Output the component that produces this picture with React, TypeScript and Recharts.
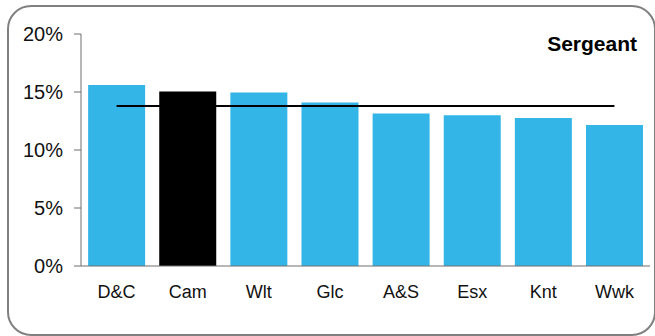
import { Bar, Cell, ComposedChart, Line, XAxis, YAxis } from 'recharts';

const categories = ['D&C', 'Cam', 'Wlt', 'Glc', 'A&S', 'Esx', 'Knt', 'Wwk'];
const shares = [15.6, 15.05, 14.95, 14.1, 13.15, 13.0, 12.75, 12.15];
const average = [13.8, 13.8, 13.8, 13.8, 13.8, 13.8, 13.8, 13.8];
const yTicks = [0, 5, 10, 15, 20];
const highlight = 'Cam';

const data = categories.map((name, i) => ({
  name,
  value: shares[i],
  avg: average[i],
}));

const font = '"Liberation Sans", Arial, sans-serif';

export default function App() {
  return (
    <div
      style={{
        position: 'absolute',
        left: 0,
        top: 0,
        width: 655,
        height: 336,
        background: '#fff',
        fontFamily: font,
      }}
    >
      <div
        style={{
          position: 'absolute',
          left: 7,
          top: 5,
          width: 645,
          height: 327,
          border: '2px solid #808080',
          borderRadius: 24,
        }}
      />
      <div
        style={{
          position: 'absolute',
          right: 18,
          top: 32,
          fontSize: 21,
          lineHeight: 'normal',
          fontWeight: 'bold',
          color: '#000',
        }}
      >
        Sergeant
      </div>
      <ComposedChart
        width={655}
        height={336}
        data={data}
        barCategoryGap="10%"
        margin={{ top: 34, right: 5, left: 0, bottom: 40 }}
        style={{ position: 'absolute', left: 0, top: 0 }}
      >
        <XAxis
          dataKey="name"
          height={30}
          tickLine={false}
          tickSize={6}
          tickMargin={13}
          stroke="#6e6e6e"
          tick={{ fill: '#111', fontSize: 18, fontFamily: font }}
        />
        <YAxis
          width={81}
          domain={[0, 20]}
          ticks={yTicks}
          tickFormatter={(v) => `${v}%`}
          tickSize={7}
          tickMargin={11}
          stroke="#6e6e6e"
          tick={{ fill: '#111', fontSize: 20, fontFamily: font }}
        />
        <Bar dataKey="value" isAnimationActive={false}>
          {data.map((d) => (
            <Cell key={d.name} fill={d.name === highlight ? '#000000' : '#33B6E7'} />
          ))}
        </Bar>
        <Line
          dataKey="avg"
          type="linear"
          stroke="#000"
          strokeWidth={2}
          dot={false}
          activeDot={false}
          isAnimationActive={false}
        />
      </ComposedChart>
    </div>
  );
}
